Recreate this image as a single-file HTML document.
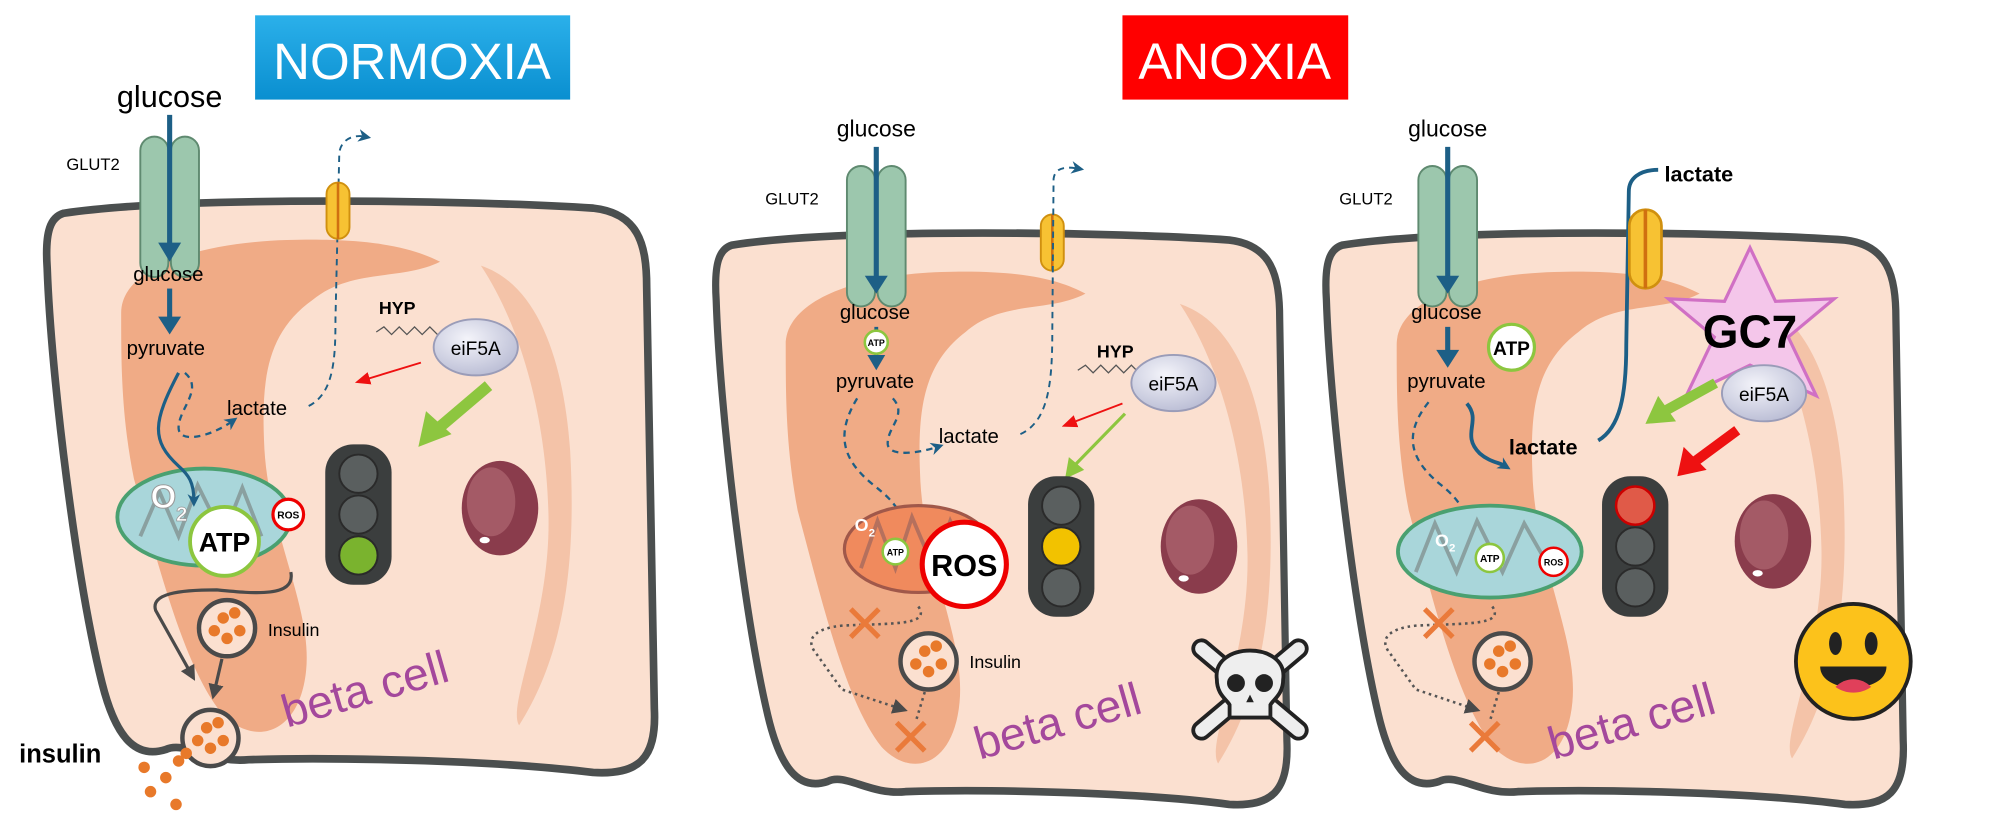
<!DOCTYPE html>
<html><head><meta charset="utf-8"><style>
html,body{margin:0;padding:0;background:#fff;}
svg{display:block;}
text{font-family:"Liberation Sans",sans-serif;}
</style></head><body>
<svg width="2000" height="821" viewBox="0 0 1568 643" preserveAspectRatio="none" xmlns="http://www.w3.org/2000/svg">
<defs>
<linearGradient id="blu" x1="0" y1="0" x2="0" y2="1"><stop offset="0" stop-color="#2bb0ea"/><stop offset="1" stop-color="#0a8fd0"/></linearGradient>
<radialGradient id="eif" cx="0.4" cy="0.35" r="0.7"><stop offset="0" stop-color="#f4f4fa"/><stop offset="1" stop-color="#b9bcd4"/></radialGradient>
<marker id="ab" markerWidth="10" markerHeight="10" refX="5" refY="5" orient="auto" markerUnits="userSpaceOnUse"><path d="M0,0 L10,5 L0,10 L3,5 Z" fill="#1d5f86"/></marker>
<marker id="ag" markerWidth="12" markerHeight="12" refX="6" refY="6" orient="auto" markerUnits="userSpaceOnUse"><path d="M0,0 L12,6 L0,12 Z" fill="#4a4a4a"/></marker>
<marker id="ar" markerWidth="12" markerHeight="12" refX="6" refY="6" orient="auto" markerUnits="userSpaceOnUse"><path d="M0,1 L12,6 L0,11 Z" fill="#ee1111"/></marker>
<g id="cell">
<path d="M55,172 C150,158 380,162 470,168 C505,172 512,195 512,230 L518,560 C520,600 505,612 470,610 C390,600 260,598 200,600 C170,603 150,585 135,592 C110,600 95,580 85,540 C65,460 45,300 42,215 C40,185 45,175 55,172 Z" fill="#fbe0d0" stroke="#4b4f4f" stroke-width="6"/>
<path d="M100,250 C100,215 160,195 230,193 C300,191 330,200 350,210 C320,225 280,215 250,240 C215,265 210,300 212,350 C214,420 250,480 245,530 C240,580 205,590 180,565 C150,530 130,450 110,380 C100,330 100,290 100,250 Z" fill="#f0ab86"/>
</g>
<g id="nuc">
<path d="M-15,-190 C30,-175 50,-115 55,-45 C60,45 50,115 15,170 C5,155 40,85 38,5 C36,-75 15,-145 -15,-190 Z" fill="#f4c3a8"/>
<ellipse cx="0" cy="0" rx="30" ry="37" fill="#8a3c4c"/>
<ellipse cx="-7" cy="-5" rx="19" ry="27" fill="#a45a66"/>
<ellipse cx="-12" cy="25" rx="4" ry="2.5" fill="#fff"/>
</g>
<g id="glut">
<rect x="-23" y="-55" width="22" height="110" rx="11" fill="#9cc7ad" stroke="#5f8a70" stroke-width="1.5"/>
<rect x="1" y="-55" width="22" height="110" rx="11" fill="#9cc7ad" stroke="#5f8a70" stroke-width="1.5"/>
</g>
<g id="tl">
<rect x="0" y="0" width="52" height="110" rx="22" fill="#3b3e3e"/>
<circle cx="26" cy="23" r="15" fill="#5a5f5f" stroke="#2a2a2a" stroke-width="1.5"/>
<circle cx="26" cy="55" r="15" fill="#5a5f5f" stroke="#2a2a2a" stroke-width="1.5"/>
<circle cx="26" cy="87" r="15" fill="#5a5f5f" stroke="#2a2a2a" stroke-width="1.5"/>
</g>
<g id="ves">
<circle cx="0" cy="0" r="22" fill="#fbe0d0" stroke="#4a4a4a" stroke-width="3.5"/>
<circle cx="-3" cy="-8" r="4.5" fill="#e8792a"/><circle cx="6" cy="-12" r="4.5" fill="#e8792a"/>
<circle cx="-10" cy="2" r="4.5" fill="#e8792a"/><circle cx="10" cy="2" r="4.5" fill="#e8792a"/><circle cx="0" cy="8" r="4.5" fill="#e8792a"/>
</g>
<g id="xm"><path d="M-11,-11 L11,11 M11,-11 L-11,11" stroke="#ea7a3a" stroke-width="4"/></g>
<g id="trans"><rect x="-9" y="-22" width="18" height="44" rx="9" fill="#f7c233" stroke="#d0900f" stroke-width="1.5"/><line x1="0" y1="-22" x2="0" y2="22" stroke="#d07010" stroke-width="2"/></g>
<g id="hyp"><polyline points="0,0 6,-4 12,2 18,-4 24,2 30,-4 36,2 42,-4 48,2" fill="none" stroke="#555" stroke-width="1"/></g>
</defs>

<g transform="translate(-5,-5)"><use href="#cell"/></g>
<g transform="translate(522,20) scale(0.94,1)"><use href="#cell"/></g>
<g transform="translate(1000,20) scale(0.95,1)"><use href="#cell"/></g>
<use href="#nuc" transform="translate(392,398)"/>
<use href="#nuc" transform="translate(940,428)"/>
<use href="#nuc" transform="translate(1390,424)"/>

<rect x="200" y="12" width="247" height="66" fill="url(#blu)"/>
<text x="323" y="62" font-size="40" fill="#fff" text-anchor="middle">NORMOXIA</text>
<rect x="880" y="12" width="177" height="66" fill="#ff0000"/>
<text x="968" y="62" font-size="40" fill="#fff" text-anchor="middle">ANOXIA</text>

<!-- CELL 1 -->
<use href="#glut" transform="translate(133,162)"/>
<text x="133" y="84" font-size="24" text-anchor="middle">glucose</text>
<text x="52" y="133" font-size="13">GLUT2</text>
<line x1="133" y1="90" x2="133" y2="196" stroke="#1d5f86" stroke-width="4"/>
<path d="M124,190 L133,205 L142,190 Z" fill="#1d5f86"/>
<text x="132" y="220" font-size="16" text-anchor="middle">glucose</text>
<line x1="133" y1="226" x2="133" y2="254" stroke="#1d5f86" stroke-width="4"/>
<path d="M124,248 L133,262 L142,248 Z" fill="#1d5f86"/>
<text x="130" y="278" font-size="16" text-anchor="middle">pyruvate</text>
<path d="M145,292 C160,305 140,320 140,335 C140,348 165,342 182,330" fill="none" stroke="#1d5f86" stroke-width="1.8" stroke-dasharray="5,4" marker-end="url(#ab)"/>
<text x="178" y="325" font-size="16">lactate</text>
<path d="M242,318 C262,308 263,280 263,250 L266,120 C267,110 276,105 286,107" fill="none" stroke="#1d5f86" stroke-width="1.5" stroke-dasharray="5,4" marker-end="url(#ab)"/>
<use href="#trans" transform="translate(265,165)"/>
<ellipse cx="160" cy="405" rx="68" ry="38" fill="#a9d6da" stroke="#4aa070" stroke-width="3"/>
<path d="M110,420 L125,385 L140,420 L155,380 L175,420 L190,382 L205,420" fill="none" stroke="#8aa0a0" stroke-width="3"/>
<path d="M140,292 C120,330 118,345 140,365 C148,372 152,378 152,392" fill="none" stroke="#1d5f86" stroke-width="2.5" marker-end="url(#ab)"/>
<text x="118" y="398" font-size="26" font-weight="bold" fill="#fff" stroke="#999" stroke-width="0.8">O</text>
<text x="138" y="408" font-size="16" font-weight="bold" fill="#fff" stroke="#999" stroke-width="0.6">2</text>
<circle cx="176" cy="424" r="27" fill="#fff" stroke="#8cc63f" stroke-width="3"/>
<text x="176" y="432" font-size="21" font-weight="bold" text-anchor="middle">ATP</text>
<circle cx="226" cy="403" r="12" fill="#fff" stroke="#e00" stroke-width="2.5"/>
<text x="226" y="406" font-size="8" font-weight="bold" text-anchor="middle">ROS</text>
<text x="297" y="246" font-size="14" font-weight="bold">HYP</text>
<use href="#hyp" transform="translate(295,260)"/>
<ellipse cx="373" cy="272" rx="33" ry="22" fill="url(#eif)" stroke="#9a9cb8" stroke-width="1.5"/>
<text x="373" y="278" font-size="15" text-anchor="middle">eiF5A</text>
<line x1="330" y1="284" x2="284" y2="298" stroke="#ee1111" stroke-width="1.5" marker-end="url(#ar)"/>
<line x1="383" y1="302" x2="343" y2="336" stroke="#8dc63f" stroke-width="9"/>
<path d="M328,350 L334,322 L354,340 Z" fill="#8dc63f"/>
<use href="#tl" transform="translate(255,348)"/>
<circle cx="281" cy="435" r="15" fill="#7ab32e" stroke="#2a2a2a" stroke-width="1.5"/>
<path d="M228,448 C232,468 200,465 170,462 C140,462 118,465 122,478 L150,528" fill="none" stroke="#4a4a4a" stroke-width="2.5" marker-end="url(#ag)"/>
<use href="#ves" transform="translate(178,492)"/>
<text x="210" y="498" font-size="14">Insulin</text>
<line x1="174" y1="516" x2="168" y2="542" stroke="#4a4a4a" stroke-width="2.5" marker-end="url(#ag)"/>
<use href="#ves" transform="translate(165,578)"/>
<text x="15" y="597" font-size="20" font-weight="bold">insulin</text>
<circle cx="113" cy="601" r="4.5" fill="#e8792a"/><circle cx="130" cy="609" r="4.5" fill="#e8792a"/>
<circle cx="118" cy="620" r="4.5" fill="#e8792a"/><circle cx="138" cy="630" r="4.5" fill="#e8792a"/>
<circle cx="140" cy="596" r="4.5" fill="#e8792a"/><circle cx="146" cy="590" r="4.5" fill="#e8792a"/>
<text x="225" y="570" font-size="36" fill="#a4489c" transform="rotate(-16 225 570)">beta cell</text>

<!-- CELL 2 -->
<use href="#glut" transform="translate(687,185)"/>
<text x="687" y="107" font-size="18" text-anchor="middle">glucose</text>
<text x="600" y="160" font-size="13">GLUT2</text>
<line x1="687" y1="115" x2="687" y2="222" stroke="#1d5f86" stroke-width="4"/>
<path d="M678,216 L687,230 L696,216 Z" fill="#1d5f86"/>
<text x="686" y="250" font-size="16" text-anchor="middle">glucose</text>
<line x1="687" y1="256" x2="687" y2="282" stroke="#1d5f86" stroke-width="3"/>
<path d="M680,278 L687,290 L694,278 Z" fill="#1d5f86"/>
<circle cx="687" cy="268" r="9" fill="#fff" stroke="#8cc63f" stroke-width="2"/>
<text x="687" y="271" font-size="7" font-weight="bold" text-anchor="middle">ATP</text>
<text x="686" y="304" font-size="16" text-anchor="middle">pyruvate</text>
<use href="#trans" transform="translate(825,190)"/>
<path d="M700,312 C712,325 695,335 696,348 C697,358 720,355 735,350" fill="none" stroke="#1d5f86" stroke-width="1.8" stroke-dasharray="5,4" marker-end="url(#ab)"/>
<text x="736" y="347" font-size="16">lactate</text>
<path d="M800,340 C822,330 825,300 825,260 L826,140 C827,132 834,130 845,132" fill="none" stroke="#1d5f86" stroke-width="1.5" stroke-dasharray="5,4" marker-end="url(#ab)"/>
<path d="M672,312 C655,340 660,360 685,380 C700,392 708,400 710,420" fill="none" stroke="#1d5f86" stroke-width="1.8" stroke-dasharray="5,4" marker-end="url(#ab)"/>
<ellipse cx="720" cy="430" rx="58" ry="34" fill="#f08a5d" stroke="#a0584a" stroke-width="2.5"/>
<path d="M675,445 L688,408 L702,445 L715,405 L732,445 L745,408 L760,440" fill="none" stroke="#b5705d" stroke-width="3"/>
<text x="670" y="416" font-size="14" font-weight="bold" fill="#fff">O</text>
<text x="681" y="420" font-size="9" font-weight="bold" fill="#fff">2</text>
<circle cx="702" cy="432" r="10" fill="#fff" stroke="#8cc63f" stroke-width="2"/>
<text x="702" y="435" font-size="7" font-weight="bold" text-anchor="middle">ATP</text>
<circle cx="756" cy="442" r="33" fill="#fff" stroke="#e00" stroke-width="4"/>
<text x="756" y="451" font-size="24" font-weight="bold" text-anchor="middle">ROS</text>
<text x="860" y="280" font-size="14" font-weight="bold">HYP</text>
<use href="#hyp" transform="translate(845,290)"/>
<ellipse cx="920" cy="300" rx="33" ry="22" fill="url(#eif)" stroke="#9a9cb8" stroke-width="1.5"/>
<text x="920" y="306" font-size="15" text-anchor="middle">eiF5A</text>
<line x1="880" y1="316" x2="838" y2="332" stroke="#ee1111" stroke-width="1.5" marker-end="url(#ar)"/>
<line x1="882" y1="324" x2="842" y2="365" stroke="#8dc63f" stroke-width="2.5"/>
<path d="M835,375 L838,358 L850,368 Z" fill="#8dc63f"/>
<use href="#tl" transform="translate(806,373)"/>
<circle cx="832" cy="428" r="15" fill="#f2c200" stroke="#2a2a2a" stroke-width="1.5"/>
<path d="M720,475 C730,490 700,488 660,490 C640,492 630,500 640,512 L660,540 L706,555" fill="none" stroke="#555" stroke-width="2" stroke-dasharray="2,3" marker-end="url(#ag)"/>
<use href="#xm" transform="translate(678,488)"/>
<use href="#ves" transform="translate(728,518)"/>
<text x="760" y="523" font-size="14">Insulin</text>
<line x1="725" y1="542" x2="718" y2="565" stroke="#555" stroke-width="2" stroke-dasharray="2,3"/>
<use href="#xm" transform="translate(714,577)"/>
<text x="768" y="595" font-size="36" fill="#a4489c" transform="rotate(-16 768 595)">beta cell</text>
<g transform="translate(980,540)">
<path d="M-38,-32 L38,32 M38,-32 L-38,32" stroke="#222" stroke-width="16" stroke-linecap="round"/>
<path d="M-38,-32 L38,32 M38,-32 L-38,32" stroke="#eee" stroke-width="10" stroke-linecap="round"/>
<path d="M-26,-8 C-30,-38 30,-38 26,-8 C26,4 18,8 16,12 L16,22 L-16,22 L-16,12 C-18,8 -26,4 -26,-8 Z" fill="#eee" stroke="#222" stroke-width="3"/>
<circle cx="-11" cy="-5" r="7" fill="#222"/><circle cx="11" cy="-5" r="7" fill="#222"/>
<path d="M-3,10 L0,4 L3,10 Z" fill="#222"/>
</g>

<!-- CELL 3 -->
<use href="#glut" transform="translate(1135,185)"/>
<text x="1135" y="107" font-size="18" text-anchor="middle">glucose</text>
<text x="1050" y="160" font-size="13">GLUT2</text>
<line x1="1135" y1="115" x2="1135" y2="222" stroke="#1d5f86" stroke-width="4"/>
<path d="M1126,216 L1135,230 L1144,216 Z" fill="#1d5f86"/>
<text x="1134" y="250" font-size="16" text-anchor="middle">glucose</text>
<line x1="1135" y1="256" x2="1135" y2="280" stroke="#1d5f86" stroke-width="4"/>
<path d="M1126,274 L1135,288 L1144,274 Z" fill="#1d5f86"/>
<circle cx="1185" cy="272" r="18" fill="#fff" stroke="#8cc63f" stroke-width="2.5"/>
<text x="1185" y="278" font-size="15" font-weight="bold" text-anchor="middle">ATP</text>
<text x="1134" y="304" font-size="16" text-anchor="middle">pyruvate</text>
<path d="M1150,316 C1162,330 1145,340 1160,355 C1168,362 1175,362 1180,365" fill="none" stroke="#1d5f86" stroke-width="3" marker-end="url(#ab)"/>
<text x="1183" y="356" font-size="17" font-weight="bold">lactate</text>
<path d="M1253,345 C1270,335 1275,310 1275,270 L1277,150 C1277,140 1285,133 1300,133" fill="none" stroke="#1d5f86" stroke-width="3"/>
<g transform="translate(1290,195) scale(1.4)"><use href="#trans"/></g>
<text x="1305" y="142" font-size="17" font-weight="bold">lactate</text>
<path d="M1120,315 C1100,340 1105,360 1130,380 C1145,392 1150,402 1152,418" fill="none" stroke="#1d5f86" stroke-width="1.8" stroke-dasharray="5,4" marker-end="url(#ab)"/>
<ellipse cx="1168" cy="432" rx="72" ry="36" fill="#a9d6da" stroke="#4aa070" stroke-width="3"/>
<path d="M1110,448 L1125,410 L1142,448 L1158,408 L1178,448 L1195,410 L1215,445" fill="none" stroke="#8aa0a0" stroke-width="3"/>
<text x="1125" y="428" font-size="14" font-weight="bold" fill="#fff">O</text>
<text x="1136" y="432" font-size="9" font-weight="bold" fill="#fff">2</text>
<circle cx="1168" cy="437" r="11" fill="#fff" stroke="#8cc63f" stroke-width="2"/>
<text x="1168" y="440" font-size="8" font-weight="bold" text-anchor="middle">ATP</text>
<circle cx="1218" cy="440" r="11" fill="#fff" stroke="#e00" stroke-width="2"/>
<text x="1218" y="443" font-size="7" font-weight="bold" text-anchor="middle">ROS</text>
<polygon points="1372,194 1392,236 1438,234 1402,264 1424,310 1372,286 1322,310 1344,264 1308,234 1352,236" fill="#f4c6ea" stroke="#d070c4" stroke-width="2.5"/>
<text x="1372" y="272" font-size="36" font-weight="bold" text-anchor="middle">GC7</text>
<ellipse cx="1383" cy="308" rx="33" ry="22" fill="url(#eif)" stroke="#9a9cb8" stroke-width="1.5"/>
<text x="1383" y="314" font-size="15" text-anchor="middle">eiF5A</text>
<line x1="1345" y1="300" x2="1305" y2="322" stroke="#8dc63f" stroke-width="8"/>
<path d="M1290,332 L1300,310 L1314,330 Z" fill="#8dc63f"/>
<line x1="1362" y1="337" x2="1328" y2="362" stroke="#ee1111" stroke-width="8"/>
<path d="M1315,373 L1320,350 L1338,368 Z" fill="#ee1111"/>
<use href="#tl" transform="translate(1256,373)"/>
<circle cx="1282" cy="396" r="15" fill="#e05a48" stroke="#c00" stroke-width="2"/>
<path d="M1170,475 C1180,490 1150,488 1110,490 C1090,492 1080,500 1090,512 L1110,540 L1155,555" fill="none" stroke="#555" stroke-width="2" stroke-dasharray="2,3" marker-end="url(#ag)"/>
<use href="#xm" transform="translate(1128,488)"/>
<use href="#ves" transform="translate(1178,518)"/>
<line x1="1175" y1="542" x2="1168" y2="565" stroke="#555" stroke-width="2" stroke-dasharray="2,3"/>
<use href="#xm" transform="translate(1164,577)"/>
<text x="1218" y="595" font-size="36" fill="#a4489c" transform="rotate(-16 1218 595)">beta cell</text>
<g transform="translate(1453,518)">
<circle r="45" fill="#fcc21b" stroke="#222" stroke-width="3"/>
<ellipse cx="-14" cy="-14" rx="5" ry="9" fill="#222"/><ellipse cx="14" cy="-14" rx="5" ry="9" fill="#222"/>
<path d="M-26,4 L26,4 C26,26 -26,26 -26,4 Z" fill="#222"/>
<path d="M-14,20 C-6,12 6,12 14,20 C6,26 -6,26 -14,20 Z" fill="#e0405a"/>
</g>
</svg>
</body></html>
